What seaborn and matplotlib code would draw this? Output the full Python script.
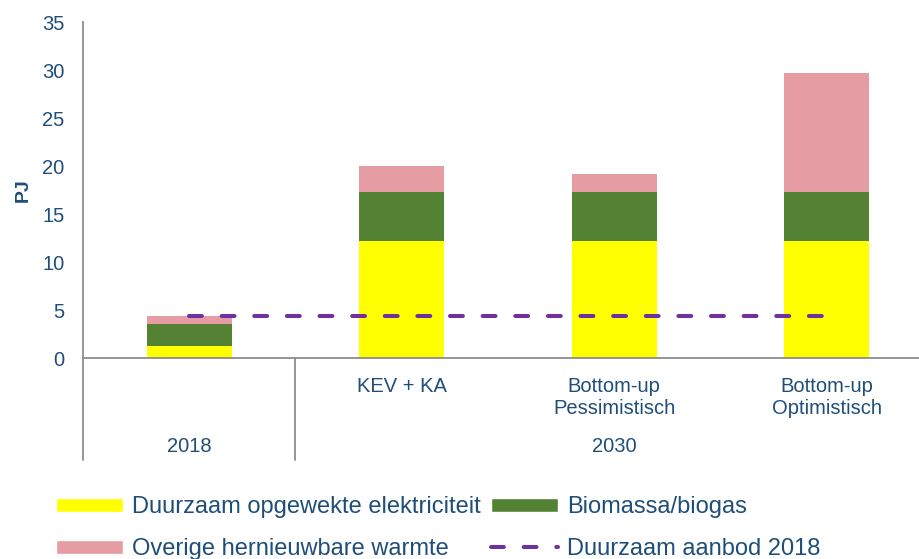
import numpy as np
import matplotlib
matplotlib.use('Agg')
import matplotlib.pyplot as plt
from matplotlib.patches import Patch
from matplotlib.lines import Line2D
import seaborn as sns

# --- data (PJ) ---
categories = ['2018', 'KEV + KA', 'Bottom-up\nPessimistisch', 'Bottom-up\nOptimistisch']
groups = ['2018', '2030']
elektriciteit = [1.2, 12.2, 12.2, 12.2]
biomassa = [2.3, 5.1, 5.1, 5.1]
warmte = [0.9, 2.7, 1.9, 12.4]
aanbod_2018 = [4.4, 4.4, 4.4, 4.4]
y_ticks = [0, 5, 10, 15, 20, 25, 30, 35]

labels = ['Duurzaam opgewekte elektriciteit', 'Biomassa/biogas',
          'Overige hernieuwbare warmte', 'Duurzaam aanbod 2018']

C_YELLOW = '#FFFF00'
C_GREEN = '#548235'
C_PINK = '#E59CA3'
C_PURPLE = '#7030A0'
C_TEXT = '#1F4E79'
C_AXIS = '#8C8C8C'

sns.set_style('white')
plt.rcParams['font.family'] = ['Liberation Sans', 'DejaVu Sans']
plt.rcParams['font.size'] = 14.5
plt.rcParams['text.color'] = C_TEXT

pos = np.arange(len(categories))
stack1 = np.array(elektriciteit)
stack2 = stack1 + np.array(biomassa)
stack3 = stack2 + np.array(warmte)

fig = plt.figure(figsize=(9.2, 5.59), dpi=100)
ax = fig.add_axes([83 / 920, 1 - 358 / 559, 1 - 83 / 920, 336 / 559])

# stacked bars: draw cumulative totals from the top down
for vals, col in [(stack3, C_PINK), (stack2, C_GREEN), (stack1, C_YELLOW)]:
    sns.barplot(x=pos, y=vals, native_scale=True, width=0.4, color=col,
                saturation=1, linewidth=0, ax=ax)

sns.lineplot(x=pos, y=aanbod_2018, color=C_PURPLE, linewidth=2.9, ax=ax)
dash_line = ax.lines[-1]
dash_line.set_dashes((3.2, 4.9))
dash_line.set_dash_capstyle('round')

ax.set_xlim(-0.5, 3.44)
ax.set_ylim(0, 35)
ax.set_yticks(y_ticks)
ax.set_xticks(pos)
ax.set_xticklabels([''] + categories[1:], color=C_TEXT)
ax.tick_params(axis='x', length=0, pad=14)
ax.tick_params(axis='y', length=0, pad=13.5, labelcolor=C_TEXT)
ax.set_xlabel('')
ax.set_ylabel('PJ', fontweight='bold', color=C_TEXT, fontsize=14)
ax.yaxis.set_label_coords(-0.061, 0.5)

sns.despine(ax=ax)
for side in ['left', 'bottom']:
    ax.spines[side].set_color(C_AXIS)
    ax.spines[side].set_linewidth(1.3)

# group separators and labels under the axis
for xv in [-0.5, 0.5]:
    ax.axvline(xv, ymin=-0.304, ymax=0, color=C_AXIS, lw=1.3, clip_on=False)
ax.text(0, -0.262, groups[0], transform=ax.get_xaxis_transform(),
        ha='center', va='center', color=C_TEXT)
ax.text(2, -0.262, groups[1], transform=ax.get_xaxis_transform(),
        ha='center', va='center', color=C_TEXT)

handles = [
    Patch(facecolor=C_YELLOW, label=labels[0]),
    Patch(facecolor=C_PINK, label=labels[2]),
    Patch(facecolor=C_GREEN, label=labels[1]),
    Line2D([0], [0], color=C_PURPLE, lw=2.9, dashes=(3.2, 4.9),
           dash_capstyle='round', label=labels[3]),
]
fig.legend(handles=handles, ncol=2, loc='upper left',
           bbox_to_anchor=(56 / 920, 1 - 496.5 / 559), frameon=False,
           borderpad=0, borderaxespad=0, handlelength=2.84, handleheight=0.55,
           handletextpad=0.38, columnspacing=0.45, labelspacing=0.83,
           fontsize=17, labelcolor=C_TEXT)

fig.savefig('out.png', dpi=100)
